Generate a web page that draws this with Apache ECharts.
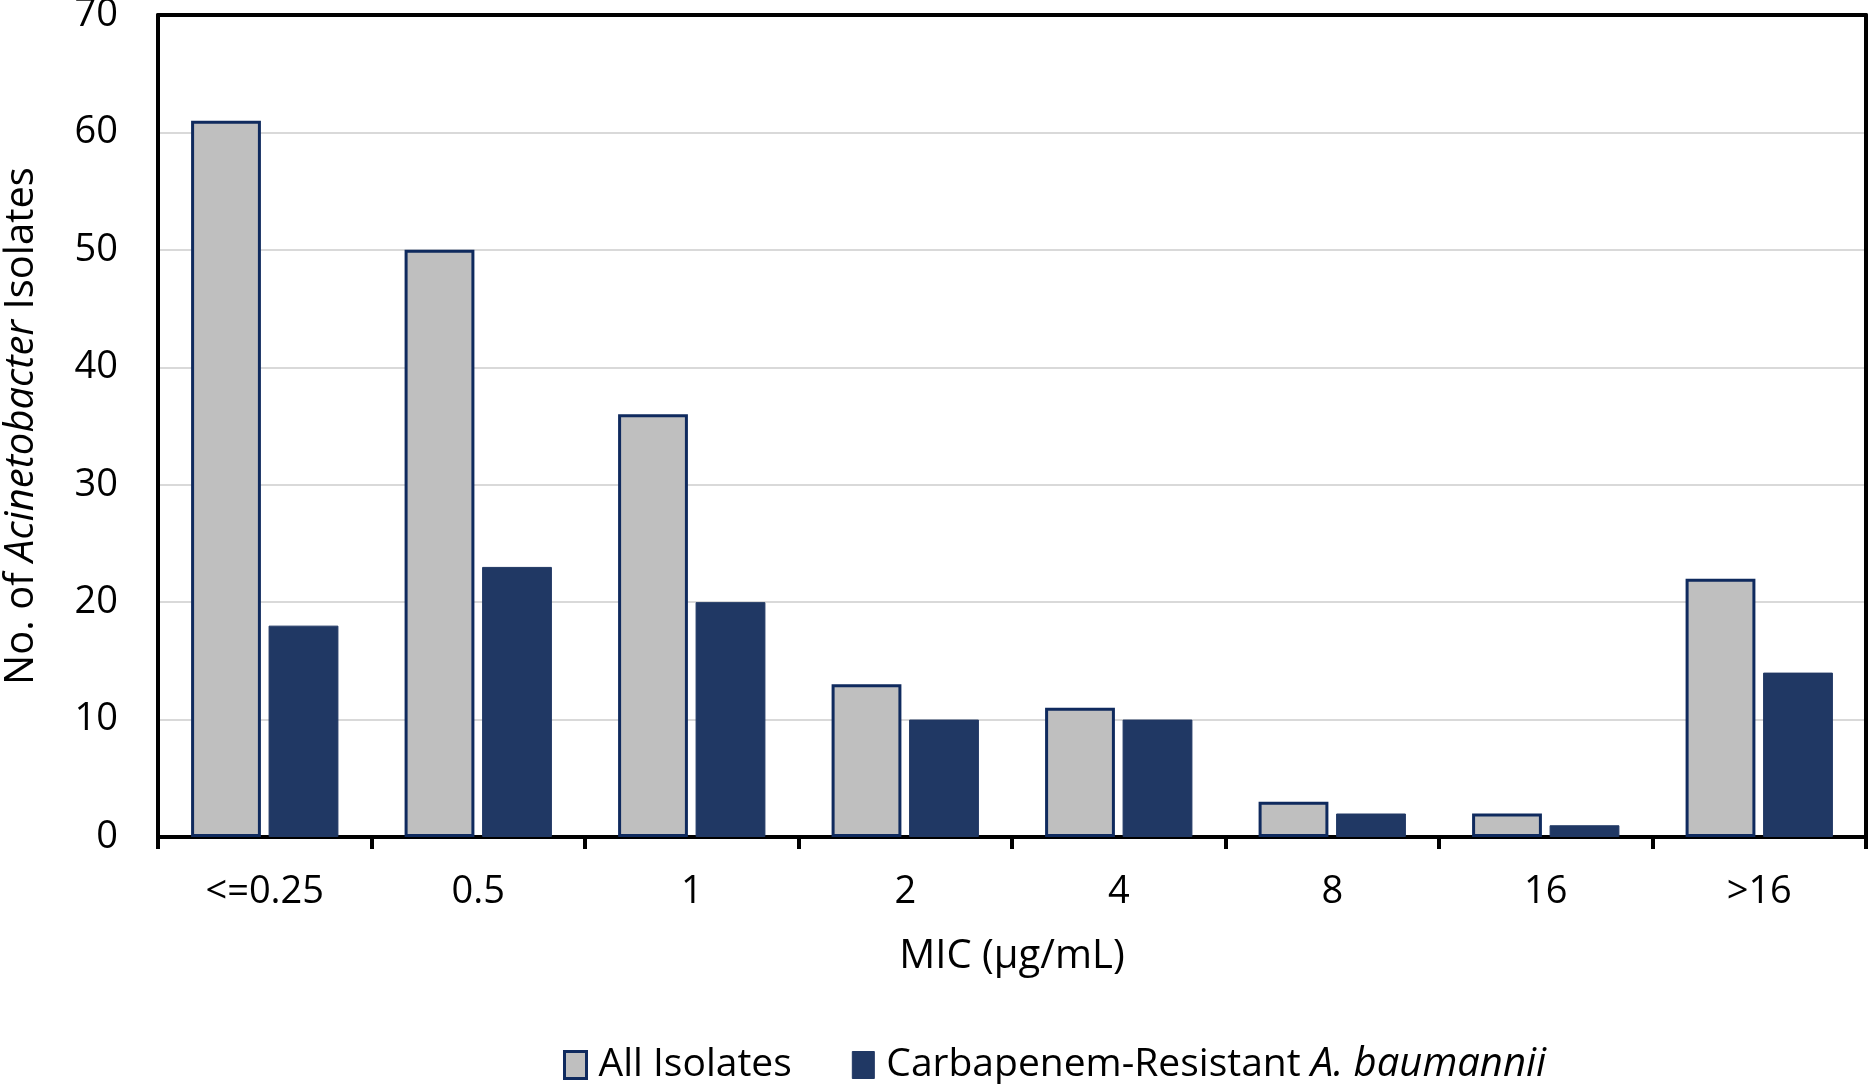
<!DOCTYPE html>
<html>
<head>
<meta charset="utf-8">
<script src="https://cdn.jsdelivr.net/npm/echarts@6/dist/echarts.min.js"></script>
<style>
html,body{margin:0;padding:0;background:#fff;}
#chart{width:1869px;height:1084px;}
</style>
</head>
<body>
<div id="chart"></div>
<script>
const categories = ['<=0.25', '0.5', '1', '2', '4', '8', '16', '>16'];
const allIsolates = [61, 50, 36, 13, 11, 3, 2, 22];
const crab = [18, 23, 20, 10, 10, 2, 1, 14];
const yTicks = [0, 10, 20, 30, 40, 50, 60, 70];

const FONT = 'Open Sans';
const navy = '#0f2a5e';
const dark = '#203864';
const gray = '#bfbfbf';
const gridColors = yTicks.map(function (v, i) { return (i === 0 || i === yTicks.length - 1) ? 'rgba(0,0,0,0)' : '#d9d9d9'; });

const chart = echarts.init(document.getElementById('chart'));
chart.setOption({
  animation: false,
  backgroundColor: '#fff',
  textStyle: { fontFamily: FONT, color: '#000' },
  grid: { left: 158, right: 3, top: 15, bottom: 247, show: false,
    containLabel: false, outerBoundsMode: 'none' },
  legend: {
    left: 558, top: 1040,
    itemWidth: 22, itemHeight: 27, itemGap: 60,
    icon: 'rect',
    data: [
      { name: 'All Isolates', itemStyle: { color: gray, borderColor: navy, borderWidth: 3 } },
      { name: 'Carbapenem-Resistant A. baumannii', itemStyle: { color: dark, borderColor: dark, borderWidth: 1 } }
    ],
    formatter: function (n) {
      if (n === 'All Isolates') return '{n|All Isolates}';
      return '{n|Carbapenem-Resistant }{i|A. baumannii}';
    },
    textStyle: {
      fontFamily: FONT, fontSize: 39, color: '#000', padding: [0, 0, 0, 7],
      rich: {
        n: { fontFamily: FONT, fontSize: 39, color: '#000' },
        i: { fontFamily: FONT, fontSize: 40, color: '#000', fontStyle: 'italic' }
      }
    }
  },
  xAxis: [{
    type: 'category',
    data: categories,
    boundaryGap: true,
    name: 'MIC (µg/mL)',
    nameLocation: 'middle',
    nameGap: 100,
    nameTextStyle: { fontFamily: FONT, fontSize: 40, color: '#000' },
    axisLine: { onZero: false, lineStyle: { color: '#000', width: 4 } },
    axisTick: { show: true, length: 12, lineStyle: { color: '#000', width: 4 } },
    axisLabel: { fontFamily: FONT, fontSize: 38, color: '#000', margin: 36 }
  }, {
    type: 'category',
    data: categories,
    position: 'top',
    z: 5,
    axisLine: { show: true, onZero: false, lineStyle: { color: '#000', width: 4 } },
    axisTick: { show: false },
    axisLabel: { show: false },
    splitLine: { show: false }
  }],
  yAxis: [{
    type: 'value',
    min: 0, max: 70, interval: 10,
    name: '{n|No. of }{i|Acinetobacter}{n| Isolates}',
    nameLocation: 'middle',
    nameGap: 116,
    nameTextStyle: {
      rich: {
        n: { fontFamily: FONT, fontSize: 40, color: '#000' },
        i: { fontFamily: FONT, fontSize: 40, color: '#000', fontStyle: 'italic' }
      }
    },
    axisLine: { show: true, onZero: false, lineStyle: { color: '#000', width: 4 } },
    axisTick: { show: false },
    axisLabel: { fontFamily: FONT, fontSize: 38, color: '#000', margin: 40,
      formatter: function (v) { return yTicks.indexOf(v) >= 0 ? String(v) : ''; } },
    splitLine: { show: true, lineStyle: { color: gridColors, width: 2 } }
  }, {
    type: 'value',
    min: 0, max: 70, interval: 10,
    position: 'right',
    z: 5,
    axisLine: { show: true, onZero: false, lineStyle: { color: '#000', width: 4 } },
    axisTick: { show: false },
    axisLabel: { show: false },
    splitLine: { show: false }
  }],
  series: [
    {
      name: 'All Isolates', type: 'bar', data: allIsolates,
      barGap: '11%', barCategoryGap: '31%',
      itemStyle: { color: gray, borderColor: navy, borderWidth: 3 }
    },
    {
      name: 'Carbapenem-Resistant A. baumannii', type: 'bar', data: crab,
      itemStyle: { color: dark, borderColor: dark, borderWidth: 1 }
    }
  ]
});
</script>
</body>
</html>
